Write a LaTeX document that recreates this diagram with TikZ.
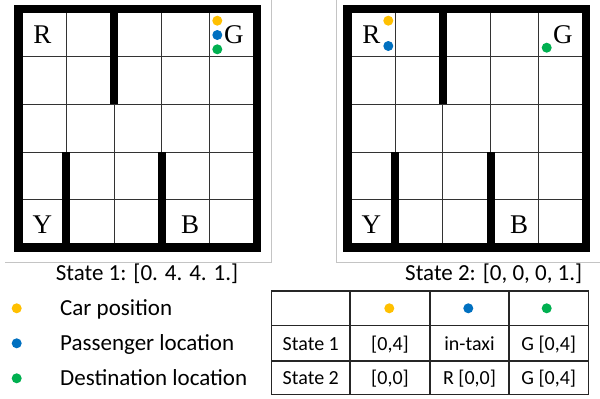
\documentclass[tikz,border=0pt]{standalone}
\usepackage{fontspec}
\setmainfont{Carlito}
\newfontfamily\gridfont{Liberation Serif}
\definecolor{caryellow}{HTML}{FFC000}
\definecolor{paxblue}{HTML}{0070C0}
\definecolor{destgreen}{HTML}{00B050}
\definecolor{panelgray}{HTML}{C4C4C4}
\newcommand\taxigrid[2]{%
  \begin{scope}[shift={(#1,8.9)}]
    \foreach \i in {1,...,4} {
      \draw[gridline] (\i*47.7,0) -- (\i*47.7,238.5);
      \draw[gridline] (0,\i*47.7) -- (238.5,\i*47.7);
    }
    \draw[wallline] (95.4,0) -- (95.4,95.4);
    \draw[wallline] (47.7,143.1) -- (47.7,238.5);
    \draw[wallline] (143.1,143.1) -- (143.1,238.5);
    \draw[frameline] (0,0) rectangle (238.5,238.5);
    \node[letter] (#2R) at (23.85,34.4) {R};
    \node[letter] (#2G) at (215.3,34.4) {G};
    \node[letter] (#2Y) at (23.85,224.4) {Y};
    \node[letter] (#2B) at (171.5,224.4) {B};
  \end{scope}}
\begin{document}
\begin{tikzpicture}[x=1pt,y=-1pt,
  gridline/.style={line width=0.9pt, black!80},
  frameline/.style={line width=8.5pt, black},
  wallline/.style={line width=8pt, black},
  panelline/.style={line width=0.8pt, panelgray},
  letter/.style={font=\gridfont\fontsize{27}{27}\selectfont, inner sep=0pt, anchor=base},
  dot/.style={circle, minimum size=10pt, inner sep=0pt},
  caption/.style={font=\fontsize{23}{23}\selectfont, inner sep=0pt, anchor=base},
  legend/.style={font=\fontsize{23}{23}\selectfont, inner sep=0pt, anchor=base west},
  cell/.style={font=\fontsize{20}{20}\selectfont, inner sep=0pt, anchor=base},
  tableline/.style={line width=1.1pt, black!85}]
\useasboundingbox (0,0) rectangle (600,399);
\fill[white] (0,0) rectangle (600,399);
% panel borders
\draw[panelline] (5,262) -- (271,262) -- (271,0);
\draw[panelline] (336,0) -- (336,262) -- (600,262);
% grids
\taxigrid{18.6}{l}
\taxigrid{347.5}{r}
% dots, state 1
\node[dot, fill=caryellow] (lcar) at (217.3,20.7) {};
\node[dot, fill=paxblue] (lpax) at (217.3,35) {};
\node[dot, fill=destgreen] (ldest) at (217.3,49.3) {};
% dots, state 2
\node[dot, fill=caryellow] (rcar) at (388.3,20.7) {};
\node[dot, fill=paxblue] (rpax) at (388.3,46) {};
\node[dot, fill=destgreen] (rdest) at (546.7,47.7) {};
% captions
\node[caption] (cap1) at (147,280.5) {State 1: [0. 4. 4. 1.]};
\node[caption] (cap2) at (493.7,280.5) {State 2: [0, 0, 0, 1.]};
% legend
\node[dot, fill=caryellow] (legcar) at (16.7,308.3) {};
\node[dot, fill=paxblue] (legpax) at (16.7,343.3) {};
\node[dot, fill=destgreen] (legdest) at (16.7,378.3) {};
\node[legend] (legcart) at (60,315.8) {Car position};
\node[legend] (legpaxt) at (60,350.8) {Passenger location};
\node[legend] (legdestt) at (60,385.8) {Destination location};
% table
\draw[tableline] (271.7,291) rectangle (588.3,394.3);
\draw[tableline] (350,291) -- (350,394.3);
\draw[tableline] (430,291) -- (430,394.3);
\draw[tableline] (509,291) -- (509,394.3);
\draw[tableline] (271.7,325.7) -- (588.3,325.7);
\draw[tableline] (271.7,361) -- (588.3,361);
\node[dot, fill=caryellow] (tcar) at (389.3,308.3) {};
\node[dot, fill=paxblue] (tpax) at (468.3,308.3) {};
\node[dot, fill=destgreen] (tdest) at (546.7,308.3) {};
\node[cell] (s1) at (310.8,350.6) {State 1};
\node[cell] (s1a) at (390,350.6) {[0,4]};
\node[cell] (s1b) at (469.5,350.6) {in-taxi};
\node[cell] (s1c) at (548.7,350.6) {G [0,4]};
\node[cell] (s2) at (310.8,384.6) {State 2};
\node[cell] (s2a) at (390,384.6) {[0,0]};
\node[cell] (s2b) at (469.5,384.6) {R [0,0]};
\node[cell] (s2c) at (548.7,384.6) {G [0,4]};
\end{tikzpicture}
\end{document}
